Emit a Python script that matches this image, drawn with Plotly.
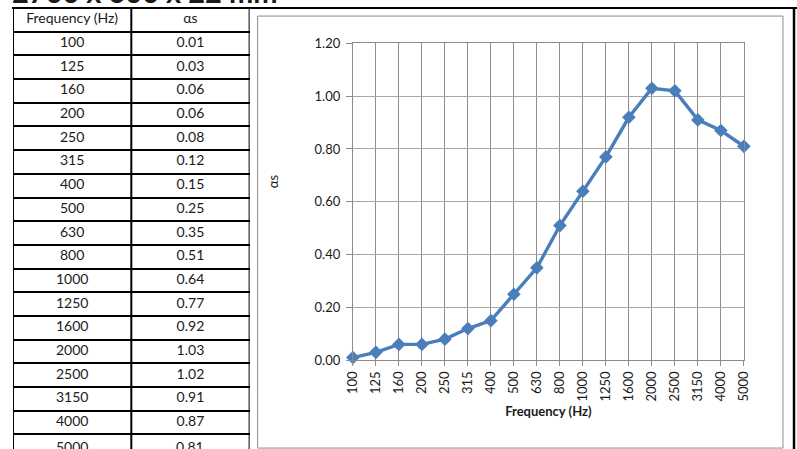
import plotly.graph_objects as go

freq_labels = ["100", "125", "160", "200", "250", "315", "400", "500", "630", "800",
               "1000", "1250", "1600", "2000", "2500", "3150", "4000", "5000"]
alpha_s = [0.01, 0.03, 0.06, 0.06, 0.08, 0.12, 0.15, 0.25, 0.35, 0.51,
           0.64, 0.77, 0.92, 1.03, 1.02, 0.91, 0.87, 0.81]
table_header = ["Frequency (Hz)", "αs"]
y_ticks = [0.0, 0.2, 0.4, 0.6, 0.8, 1.0, 1.2]
heading = "2700 x 600 x 22 mm"
x_title = "Frequency (Hz)"
y_title = "αs"

W, H = 797, 449
FONT = "Lato"
TXT = "#1a1a1a"

# effective plotting paper (calibrated): pixels [10, 789] x [10, 439]
PL, PT, PW, PH = 10.0, 10.0, 779.0, 429.0

def fx(x):
    return (x - PL) / PW

def fy(y):
    return 1 - (y - PT) / PH

fig = go.Figure()

# ---- main chart ----
fig.add_trace(go.Scatter(
    x=freq_labels, y=alpha_s, mode="lines+markers",
    line=dict(color="#4a7ebb", width=3.4),
    marker=dict(symbol="diamond", size=10.5, color="#4a7ebb"),
    cliponaxis=False, showlegend=False, xaxis="x", yaxis="y",
))

# ---- table (text drawn on its own axes) ----
n = len(freq_labels)
row_h = 23.47
top_px = 10.0
y_top = -0.5 - (top_px - PT) / row_h
y_bot = -0.5 + (PT + PH - top_px) / row_h

rows = list(range(1, n + 1))
vals_txt = [f"{v:.2f}" for v in alpha_s]
in_rows = [r for r in rows if r <= y_bot]
out_rows = [r for r in rows if r > y_bot]

tfont = dict(family=FONT, size=14, color=TXT)
fig.add_trace(go.Scatter(
    x=[0.5, 1.5], y=[0, 0], text=table_header, mode="text",
    textfont=tfont, showlegend=False, xaxis="x2", yaxis="y2", cliponaxis=False,
))
fig.add_trace(go.Scatter(
    x=[0.5] * len(in_rows), y=in_rows, text=[freq_labels[r - 1] for r in in_rows], mode="text",
    textfont=tfont, showlegend=False, xaxis="x2", yaxis="y2", cliponaxis=False,
))
fig.add_trace(go.Scatter(
    x=[1.5] * len(in_rows), y=in_rows, text=[vals_txt[r - 1] for r in in_rows], mode="text",
    textfont=tfont, showlegend=False, xaxis="x2", yaxis="y2", cliponaxis=False,
))

shapes = [
    dict(type="line", xref="paper", yref="paper", x0=fx(13), x1=fx(797),
         y0=fy(top_px), y1=fy(top_px), line=dict(color="black", width=2)),
    dict(type="line", xref="paper", yref="paper", x0=fx(793), x1=fx(793),
         y0=fy(449), y1=fy(top_px), line=dict(color="black", width=2.5)),
    dict(type="rect", xref="paper", yref="paper", x0=fx(258), x1=fx(782),
         y0=fy(446), y1=fy(18), line=dict(color="#8c8c8c", width=1)),
]
for xv in [0, 1, 2]:
    shapes.append(dict(type="line", xref="x2", yref="paper", x0=xv, x1=xv,
                       y0=fy(449), y1=fy(top_px), line=dict(color="black", width=2)))

annotations = [
    dict(text=y_title, x=fx(273), y=fy(182), xref="paper", yref="paper",
         showarrow=False, textangle=-90, font=dict(family=FONT, size=13, color=TXT)),
    dict(text="<b>" + heading + "</b>", x=fx(11), y=fy(13), xref="paper", yref="paper",
         xanchor="left", yanchor="bottom", showarrow=False,
         font=dict(family=FONT, size=29, color=TXT)),
]
# rows that fall below the plotting paper (cut off at the page bottom)
for r in out_rows:
    ypix = top_px + (r + 0.5) * row_h
    annotations.append(dict(text=freq_labels[r - 1], x=0.5, xref="x2", y=fy(ypix), yref="paper",
                            xanchor="center", yanchor="middle", showarrow=False, font=tfont))
    annotations.append(dict(text=vals_txt[r - 1], x=1.5, xref="x2", y=fy(ypix), yref="paper",
                            xanchor="center", yanchor="middle", showarrow=False, font=tfont))

fig.update_layout(
    width=W, height=H,
    margin=dict(l=0, r=0, t=0, b=0),
    paper_bgcolor="white", plot_bgcolor="white",
    font=dict(family=FONT, color=TXT),
    xaxis=dict(
        domain=[fx(353), fx(743)], type="category", range=[0, n - 1],
        showgrid=True, gridcolor="#8c8c8c", gridwidth=1,
        showline=True, linecolor="#8c8c8c", linewidth=1, mirror=True,
        ticks="outside", ticklen=5, tickcolor="#8c8c8c",
        tickangle=-90, tickfont=dict(family=FONT, size=13, color=TXT),
        title=dict(text="<b>" + x_title + "</b>", font=dict(family=FONT, size=13, color=TXT), standoff=6),
        anchor="y", zeroline=False,
    ),
    yaxis=dict(
        domain=[fy(359), fy(45)], range=[0, 1.2],
        tickvals=y_ticks, tickformat=".2f",
        showgrid=True, gridcolor="#a6a6a6", gridwidth=1,
        showline=True, linecolor="#8c8c8c", linewidth=1, mirror=True,
        ticks="outside", ticklen=6, tickcolor="#8c8c8c",
        tickfont=dict(family=FONT, size=13, color=TXT),
        ticklabelstandoff=3,
        zeroline=False, anchor="x",
    ),
    xaxis2=dict(
        domain=[fx(14), fx(250)], range=[0, 2],
        showticklabels=False, showgrid=False, zeroline=False, anchor="y2",
    ),
    yaxis2=dict(
        domain=[0, 1], range=[y_bot, y_top],
        tickvals=[i + 0.5 for i in range(0, n)], showticklabels=False,
        showgrid=True, gridcolor="black", gridwidth=2, zeroline=False,
        anchor="x2",
    ),
    shapes=shapes,
    annotations=annotations,
)

fig.write_html(
    "out.html",
    config={"displayModeBar": False},
    post_script=(
        "document.documentElement.style.margin='0';"
        "document.body.style.margin='0';"
        "document.documentElement.style.overflow='hidden';"
        "document.body.style.overflow='hidden';"
        "var d=document.getElementById('{plot_id}');"
        "d.style.position='fixed';d.style.left='0px';d.style.top='0px';"
    ),
)
